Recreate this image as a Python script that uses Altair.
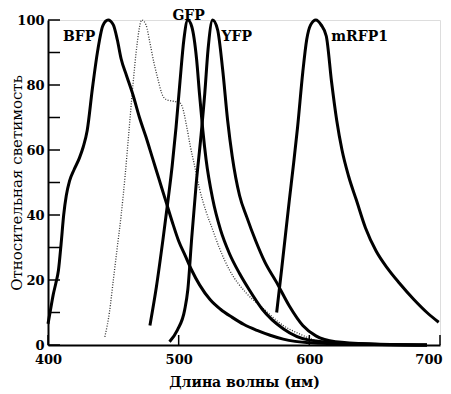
import altair as alt
import pandas as pd

# ---- data ----
bfp_wl = [400, 402, 404, 406, 408, 410, 412, 414, 416.5, 420, 424, 427, 430, 434, 438, 442, 446, 450, 453, 456, 460, 465, 470, 475, 480, 485, 490, 495, 500, 505, 510, 516, 524, 532, 541, 550, 560, 570, 580, 600, 640, 690]
bfp_val = [6.5, 11, 15.5, 19, 23, 31, 40, 46, 50.5, 54, 57.5, 61, 66, 79, 90.5, 98.3, 100, 98.5, 94, 88, 83, 77, 70, 64, 57.5, 51, 44.5, 38, 32, 27.5, 23, 18.5, 14, 11, 8.5, 6.3, 4.5, 3, 1.8, 0.7, 0.2, 0]

cfp_wl = [443.5, 447, 450, 453, 456, 459, 462, 465, 468, 471.8, 475, 478, 481, 484, 487, 490.6, 496, 501, 503, 506, 509, 512, 516, 521, 526, 531, 539, 551.7, 564, 580, 592, 610, 650]
cfp_val = [2.5, 10, 20, 30, 40, 52, 66, 80, 92, 100, 98.5, 93, 87, 82, 77.5, 75.5, 75, 74.5, 73, 67.5, 61, 55.5, 48, 41, 35.5, 30, 23, 16, 11.5, 6, 3.5, 1, 0.2]

gfp_wl = [478, 483, 488, 492, 495, 498, 501, 504, 507, 510, 513.7, 516, 518.5, 521, 526, 532, 539, 546.6, 554, 564, 580, 600, 640, 690]
gfp_val = [6, 18, 32.5, 45, 55, 67, 81, 94, 100, 98, 88, 77, 66, 57, 45, 35.5, 28, 22, 17, 11, 5, 1.5, 0.3, 0]

yfp_wl = [493, 499, 504.6, 507, 510, 513.5, 517, 520, 522.5, 526, 529.8, 533.6, 537.5, 541, 546.6, 552, 559, 566, 574.6, 584.7, 595, 605, 620, 650, 690]
yfp_val = [1, 4.6, 10.8, 17, 33, 50, 64, 77.5, 91, 100, 97, 85, 69, 58, 46, 39.5, 32, 25.5, 19.5, 12, 6, 2.8, 1, 0.3, 0]

rfp_wl = [575, 579, 584.7, 588, 591, 595, 598, 601, 605, 609, 613, 617, 621, 625, 630, 636, 643, 651, 660, 669, 680, 690, 699]
rfp_val = [10, 24, 44.6, 56, 67, 84, 94, 98.5, 100, 98.5, 95, 81, 69, 60, 52, 44.6, 36, 29, 23.5, 19, 14, 10, 7]

label_text = ["BFP", "GFP", "YFP", "mRFP1"]
label_wl = [411.5, 507.6, 532.8, 616.8]
label_val = [94.8, 101.1, 94.8, 94.8]
label_align = ["left", "center", "left", "left"]

y_tick_values = [0, 10, 20, 30, 40, 50, 60, 70, 80, 90, 100]
y_label_values = [0, 20, 40, 60, 80, 100]
x_tick_values = [400, 500, 600, 700]

# ---- build tables ----
rows = []
for name, wl, val in [("BFP", bfp_wl, bfp_val), ("GFP", gfp_wl, gfp_val),
                      ("YFP", yfp_wl, yfp_val), ("mRFP1", rfp_wl, rfp_val)]:
    for i, (w, v) in enumerate(zip(wl, val)):
        rows.append({"series": name, "wl": w, "val": v, "i": i})
solid = pd.DataFrame(rows)
dotted = pd.DataFrame({"wl": cfp_wl, "val": cfp_val, "i": list(range(len(cfp_wl)))})
labels = pd.DataFrame({"text": label_text, "wl": label_wl, "val": label_val, "align": label_align})

W, H = 392, 325
FONT = "DejaVu Serif"

xscale = alt.Scale(domain=[400, 700], nice=False, zero=False)
yscale = alt.Scale(domain=[0, 100], nice=False)

x_enc = alt.X("wl:Q", scale=xscale, axis=alt.Axis(
    values=x_tick_values, ticks=False, tickSize=0, grid=False, labelPadding=8, labelFlush=False,
    labelAlign={"expr": "datum.value == 700 ? 'right' : 'center'"},
    labelOffset={"expr": "datum.value == 700 ? 2 : 0"},
    domainColor="black", domainWidth=2, labelFont=FONT, labelFontSize=13, labelFontWeight="bold",
    labelColor="black", title="Длина волны (нм)", titleFont=FONT, titleFontSize=14,
    titleFontWeight="bold", titleColor="black", titlePadding=9))
y_enc = alt.Y("val:Q", scale=yscale, axis=alt.Axis(
    values=y_label_values, ticks=False, tickSize=0, grid=False, labelPadding=4, labelFlush=False,
    domainColor="black", domainWidth=2, labelFont=FONT, labelFontSize=13, labelFontWeight="bold",
    labelColor="black", title="Относительная светимость", titleFont=FONT, titleFontSize=15,
    titleFontWeight="normal", titleColor="black", titleX=-32, titleY=H / 2, titleAngle=-90,
    titleAlign="center", titleBaseline="middle"))

lines = alt.Chart(solid).mark_line(color="black", strokeWidth=3, interpolate="monotone").encode(
    x=x_enc, y=y_enc, detail="series:N", order="i:Q")

dots = alt.Chart(dotted).mark_line(color="#333333", strokeWidth=1.3, strokeDash=[1, 1.6],
                                   interpolate="monotone").encode(
    x=alt.X("wl:Q", scale=xscale), y=alt.Y("val:Q", scale=yscale), order="i:Q")

texts = []
for al in ["left", "center"]:
    texts.append(alt.Chart(labels[labels["align"] == al]).mark_text(
        font=FONT, fontSize=14, fontWeight="bold", color="black", align=al, baseline="middle").encode(
        x=alt.X("wl:Q", scale=xscale), y=alt.Y("val:Q", scale=yscale), text="text:N"))

yticks = alt.Chart(pd.DataFrame({"v": y_tick_values})).mark_rule(color="black", strokeWidth=1.5).encode(
    y=alt.Y("v:Q", scale=yscale), x=alt.value(0), x2=alt.value(12))
xticks = alt.Chart(pd.DataFrame({"v": x_tick_values})).mark_rule(color="black", strokeWidth=1.5).encode(
    x=alt.X("v:Q", scale=xscale), y=alt.value(H), y2=alt.value(H - 10))

chart = alt.layer(dots, lines, yticks, xticks, *texts).properties(
    width=W, height=H,
    padding={"left": 40, "top": 12, "right": 3, "bottom": 49},
    autosize=alt.AutoSizeParams(type="none"),
).configure_view(stroke=None).configure(background="white")

chart.save("out.html", embed_options={"renderer": "svg", "actions": False})
